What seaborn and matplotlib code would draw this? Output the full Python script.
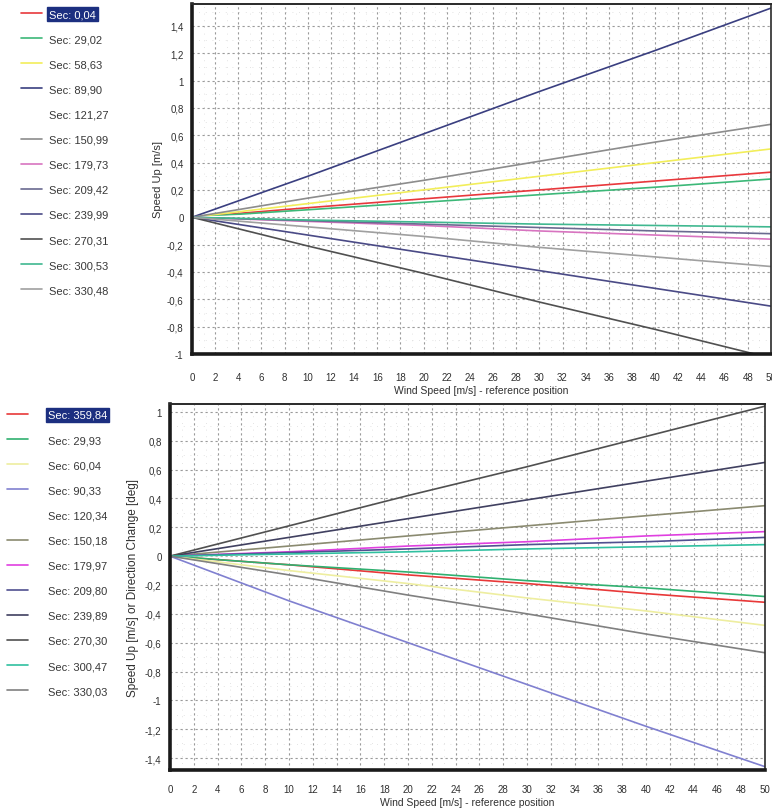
import numpy as np
import pandas as pd
import matplotlib
matplotlib.use("Agg")
import matplotlib.pyplot as plt
import seaborn as sns
from matplotlib.ticker import MultipleLocator, FuncFormatter

# 风速 (m/s)
wind_speed = [0, 10, 20, 30, 40, 50]

# 上图: Speed Up [m/s]
top_sectors = ["Sec: 0,04", "Sec: 29,02", "Sec: 58,63", "Sec: 89,90", "Sec: 121,27", "Sec: 150,99",
               "Sec: 179,73", "Sec: 209,42", "Sec: 239,99", "Sec: 270,31", "Sec: 300,53", "Sec: 330,48"]
top_values = [
    [0, 0.07, 0.135, 0.20, 0.265, 0.33],
    [0, 0.055, 0.11, 0.165, 0.22, 0.28],
    [0, 0.10, 0.20, 0.30, 0.40, 0.50],
    [0, 0.30, 0.61, 0.92, 1.22, 1.53],
    [0, 0.02, 0.04, 0.06, 0.08, 0.10],
    [0, 0.14, 0.27, 0.41, 0.55, 0.68],
    [0, -0.03, -0.06, -0.10, -0.13, -0.16],
    [0, -0.025, -0.05, -0.075, -0.10, -0.12],
    [0, -0.13, -0.26, -0.39, -0.52, -0.65],
    [0, -0.21, -0.41, -0.62, -0.82, -1.03],
    [0, -0.02, -0.035, -0.05, -0.06, -0.07],
    [0, -0.07, -0.14, -0.22, -0.29, -0.36],
]
top_colors = ["#e8383c", "#3cb878", "#f2ee5a", "#3a3f80", "#ffffff", "#8c8c8c",
              "#d874c0", "#6a6a90", "#4a4a86", "#505050", "#40b890", "#a0a0a0"]

# 下图: Speed Up [m/s] or Direction Change [deg]
bot_sectors = ["Sec: 359,84", "Sec: 29,93", "Sec: 60,04", "Sec: 90,33", "Sec: 120,34", "Sec: 150,18",
               "Sec: 179,97", "Sec: 209,80", "Sec: 239,89", "Sec: 270,30", "Sec: 300,47", "Sec: 330,03"]
bot_values = [
    [0, -0.06, -0.13, -0.19, -0.26, -0.32],
    [0, -0.06, -0.11, -0.17, -0.22, -0.28],
    [0, -0.10, -0.19, -0.29, -0.38, -0.48],
    [0, -0.31, -0.60, -0.89, -1.18, -1.46],
    [0, 0.01, 0.02, 0.03, 0.04, 0.05],
    [0, 0.07, 0.14, 0.21, 0.28, 0.35],
    [0, 0.03, 0.07, 0.10, 0.14, 0.17],
    [0, 0.025, 0.05, 0.08, 0.10, 0.13],
    [0, 0.13, 0.26, 0.39, 0.52, 0.65],
    [0, 0.21, 0.42, 0.62, 0.83, 1.04],
    [0, 0.015, 0.03, 0.05, 0.065, 0.08],
    [0, -0.13, -0.27, -0.40, -0.54, -0.67],
]
bot_colors = ["#e83838", "#30b070", "#eeeea0", "#8080d0", "#ffffff", "#8a8a70",
              "#e040e0", "#505090", "#404060", "#505050", "#30c0a0", "#808080"]


def to_long(sectors, values):
    rows = []
    for s, vals in zip(sectors, values):
        for x, v in zip(wind_speed, vals):
            rows.append({"ws": x, "val": v, "sec": s})
    return pd.DataFrame(rows)


def comma_fmt(v, pos):
    v = round(v, 2)
    if abs(v - round(v)) < 1e-9:
        return f"{int(round(v))}"
    return f"{v:g}".replace(".", ",")


sns.set_style("white")
plt.rcParams["font.family"] = ["Liberation Sans", "DejaVu Sans"]

fig = plt.figure(figsize=(7.72, 8.12), dpi=100)
W, H = 772, 812


def px_axes(left, top, right, bottom):
    return fig.add_axes([left / W, 1 - bottom / H, (right - left) / W, (bottom - top) / H])


def style_axes(ax, ylim, yticks, xpad):
    ax.set_xlim(0, 50)
    ax.set_ylim(*ylim)
    ax.xaxis.set_major_locator(MultipleLocator(2))
    ax.xaxis.set_minor_locator(MultipleLocator(1))
    ax.set_yticks(yticks)
    ax.yaxis.set_minor_locator(MultipleLocator(0.1))
    ax.yaxis.set_major_formatter(FuncFormatter(comma_fmt))
    ax.grid(True, which="major", color="#9a9a9a", linestyle=(0, (2, 2.5)), linewidth=0.8)
    ax.grid(True, which="minor", color="#dadada", linestyle=(0, (1, 7)), linewidth=0.6)
    ax.set_axisbelow(True)
    ax.tick_params(which="both", length=0, labelsize=7, colors="#303030")
    ax.tick_params(axis="x", pad=xpad)
    ax.tick_params(axis="y", pad=6)
    for side in ["left", "bottom"]:
        ax.spines[side].set_linewidth(2.6)
        ax.spines[side].set_color("#1a1a1a")
    ax.spines["top"].set_linewidth(1.4)
    ax.spines["top"].set_color("#2a2a2a")
    ax.spines["right"].set_linewidth(1.2)
    ax.spines["right"].set_color("#2a2a2a")
    ax.set_xlabel("Wind Speed [m/s] - reference position", fontsize=7.5, color="#303030", labelpad=2)


def add_legend(ax, y_top, x_left, textpad):
    handles, labels = ax.get_legend_handles_labels()
    ax.get_legend().remove()
    leg = fig.legend(handles, labels, loc="upper left",
                     bbox_to_anchor=(x_left / W, 1 - y_top / H),
                     frameon=False, fontsize=8, labelspacing=1.36,
                     handlelength=1.9, handletextpad=textpad, borderaxespad=0, borderpad=0)
    for line in leg.get_lines():
        line.set_linewidth(1.2)
    for t in leg.get_texts():
        t.set_color("#383838")
    first = leg.get_texts()[0]
    first.set_color("white")
    first.set_bbox(dict(facecolor="#1c2f80", edgecolor="#1c2f80", pad=1.5))
    return leg


# 上图
ax1 = px_axes(192, 5, 771, 355)
df_top = to_long(top_sectors, top_values)
sns.lineplot(data=df_top, x="ws", y="val", hue="sec", hue_order=top_sectors,
             palette=dict(zip(top_sectors, top_colors)), linewidth=1.2, ax=ax1)
style_axes(ax1, (-1.0, 1.56), np.round(np.arange(-1.0, 1.41, 0.2), 1), 13)
ax1.set_ylabel("Speed Up [m/s]", fontsize=8, color="#303030", labelpad=3)
add_legend(ax1, 10, 21, 0.63)

# 下图
ax2 = px_axes(170, 405, 765, 771)
df_bot = to_long(bot_sectors, bot_values)
sns.lineplot(data=df_bot, x="ws", y="val", hue="sec", hue_order=bot_sectors,
             palette=dict(zip(bot_sectors, bot_colors)), linewidth=1.2, ax=ax2)
style_axes(ax2, (-1.483, 1.055), np.round(np.arange(-1.4, 1.01, 0.2), 1), 10)
ax2.set_ylabel("Speed Up [m/s] or Direction Change [deg]", fontsize=8.5, color="#303030", labelpad=4)
add_legend(ax2, 411, 7, 1.8)

fig.savefig("out.png", dpi=100, facecolor="white")
